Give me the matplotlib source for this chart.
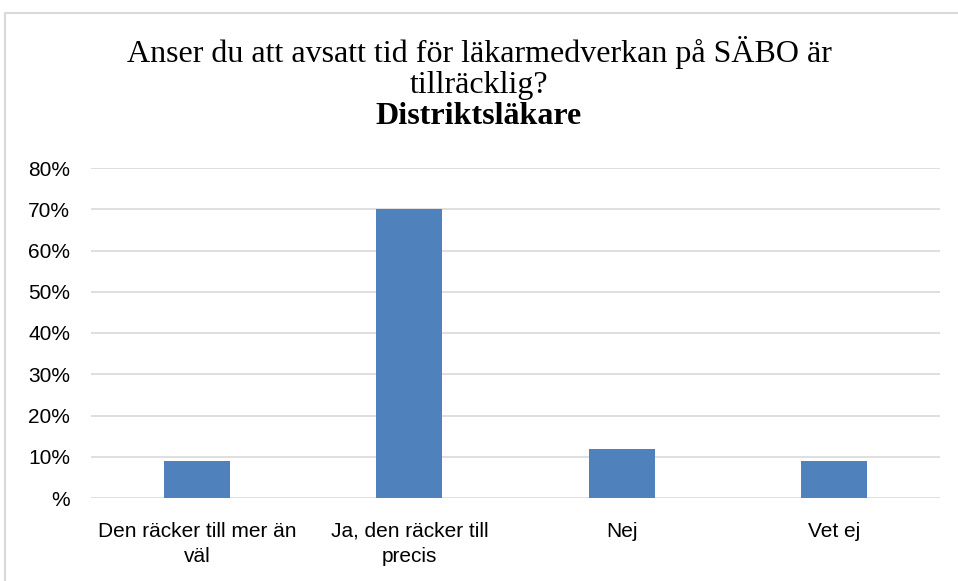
import matplotlib.pyplot as plt
from matplotlib.patches import Rectangle
from matplotlib.ticker import FuncFormatter

# Data
kategorier = ["Den räcker till mer än\nväl", "Ja, den räcker till\nprecis", "Nej", "Vet ej"]
andelar = [0.09, 0.70, 0.12, 0.09]
y_ticks = [0, 0.1, 0.2, 0.3, 0.4, 0.5, 0.6, 0.7, 0.8]

fig = plt.figure(figsize=(9.58, 5.81), dpi=100)

# Light frame around the chart area
fig.patches.append(Rectangle((5 / 958, -0.1), 1.2, 1.1 - 13 / 581,
                             transform=fig.transFigure, fill=False,
                             edgecolor="#d9d9d9", linewidth=1.5))

ax = fig.add_axes([91 / 958, 1 - 498 / 581, (940 - 91) / 958, (498 - 168) / 581])

x = range(len(kategorier))
ax.bar(x, andelar, width=0.31, color="#4f81bd", zorder=3)

ax.set_xlim(-0.5, len(kategorier) - 0.5)
ax.set_ylim(0, 0.8)
ax.set_yticks(y_ticks)
ax.yaxis.set_major_formatter(FuncFormatter(lambda v, p: "%" if v == 0 else f"{v * 100:.0f}%"))
ax.set_xticks(list(x))
ax.set_xticklabels(kategorier, fontsize=15, family="Liberation Sans", linespacing=1.45)
for lbl in ax.get_yticklabels():
    lbl.set_fontsize(15)
    lbl.set_family("Liberation Sans")

ax.grid(axis="y", color="#d9d9d9", linewidth=1.2, zorder=0)
for s in ax.spines.values():
    s.set_visible(False)
ax.tick_params(axis="y", length=0, pad=15)
ax.tick_params(axis="x", length=0, pad=17)

# Title in serif font, placed by baseline
fig.text(0.5, 1 - 62 / 581, "Anser du att avsatt tid för läkarmedverkan på SÄBO är",
         ha="center", va="baseline", fontsize=23, family="Liberation Serif")
fig.text(0.5, 1 - 93 / 581, "tillräcklig?",
         ha="center", va="baseline", fontsize=23, family="Liberation Serif")
fig.text(0.5, 1 - 124 / 581, "Distriktsläkare",
         ha="center", va="baseline", fontsize=23, fontweight="bold", family="Liberation Serif")

fig.savefig("out.png", dpi=100)
